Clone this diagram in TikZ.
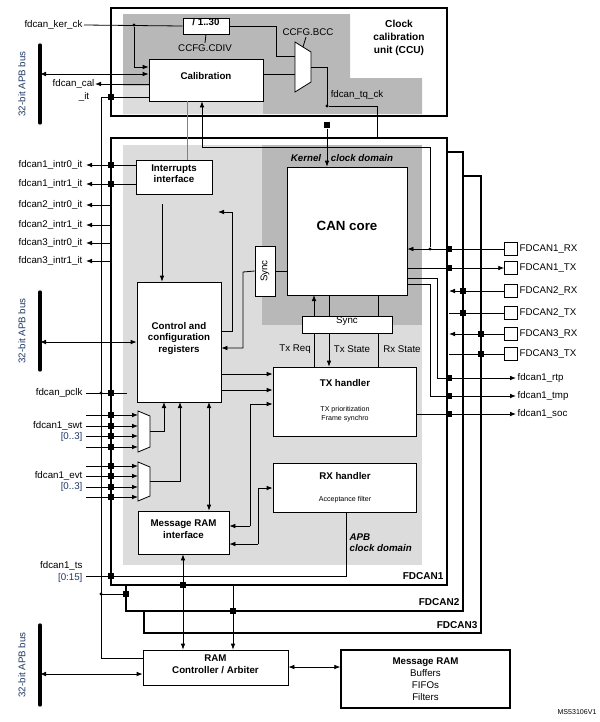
\documentclass[tikz,border=0pt]{standalone}
\usepackage{fontspec}
\setmainfont{Liberation Sans}
\usetikzlibrary{fit,arrows.meta}
\definecolor{dg}{HTML}{B8B8B8}
\definecolor{lg}{HTML}{DCDCDC}
\definecolor{bt}{HTML}{1F3864}
\begin{document}
\begin{tikzpicture}[x=0.75pt,y=-0.75pt,
  box/.style={draw,fill=white,line width=0.6pt,inner sep=0pt,align=center,font=\fontsize{7.3}{8.8}\selectfont\bfseries},
  frame/.style={draw,fill=white,line width=1.1pt},
  w/.style={line width=0.6pt},
  ar/.style={w,-{Latex[length=4.5pt,width=3.5pt]}},
  dar/.style={w,{Latex[length=4.5pt,width=3.5pt]}-{Latex[length=4.5pt,width=3.5pt]}},
  sq/.style={fill=black,minimum size=5pt,inner sep=0pt},
  dt/.style={circle,fill=black,minimum size=2.5pt,inner sep=0pt},
  lab/.style={font=\fontsize{7.3}{8.5}\selectfont,inner sep=1pt},
  bl/.style={lab,text=bt},
  bus/.style={line width=2.5pt,line cap=round}]
\useasboundingbox (0,0) rectangle (600,722);
% ---------------- CCU -------------
\draw[frame] (111,8) rectangle (447,116);
\fill[dg] (123,14) -- (350,14) -- (350,78) -- (422,78) -- (422,114) -- (123,114) -- cycle;
\fill[lg] (123,86) rectangle (263,114);
\node[lab,font=\fontsize{7.6}{9.5}\selectfont\bfseries,align=center] (ccu) at (399,38) {Clock\\calibration\\unit (CCU)};
\node[box,fit={(183,18)(229,34)}] (div) {/ 1..30};
\node[lab] (cdiv) at (205,48) {CCFG.CDIV};
\draw[w] (div.south) -- (cdiv.north);
\node[box,fit={(149,59)(263,101)}] (cal) {Calibration};
\draw[w,fill=white] (295,42) -- (311,52) -- (311,82) -- (295,92) -- cycle;
\node[lab] (bcc) at (308,32) {CCFG.BCC};
\draw[w] (bcc.south) ++(-2,0) -- (303,47);
\node[lab,anchor=east] (kerck) at (84,25) {fdcan\_ker\_ck};
\draw[w] (kerck.east) -- (div.west);
\node[dt] (kd) at (134,25) {};
\draw[ar] (kd) |- (cal.west |- 0,67);
\draw[w] (div.east) -| (276,56) -- (295,56);
\draw[w] (cal.east |- 0,74) -- (295,74);
\draw[w] (311,67) -| (327,106);
\node[dt] (tqd) at (327,106) {};
\node[lab] at (357,95) {fdcan\_tq\_ck};
\draw[w] (tqd) -| (377,152);
\node[sq] (tqs) at (327,125) {};
% APB bus 1
\draw[bus] (40,45) -- (40,123);
\node[bl,rotate=90] at (22,84) {32-bit APB bus};
\draw[dar] (40,74) -- (cal.west |- 0,74);
\draw[ar] (cal.west |- 0,84) -- (95,84);
\node[lab,anchor=east] at (96,84) {fdcan\_cal};
\node[lab] at (84,97) {\_it};
\node[sq] (its) at (111,97) {};
\draw[w] (cal.west |- 0,97) -- (101,97) -- (101,658) -- (143,658);
% ---------------- FDCAN frames -------------
\draw[frame] (144,176) rectangle (481,633);
\draw[frame] (126,152) rectangle (463,611);
\draw[frame] (111,138) rectangle (447,585);
\node[lab,font=\fontsize{7.5}{8}\selectfont\bfseries,anchor=east] at (479,625) {FDCAN3};
\node[lab,font=\fontsize{7.5}{8}\selectfont\bfseries,anchor=east] at (461,602) {FDCAN2};
\node[lab,font=\fontsize{7.5}{8}\selectfont\bfseries,anchor=east] at (445,576) {FDCAN1};
\fill[lg] (123,145) rectangle (422,565);
\fill[dg] (262,145) rectangle (422,325);
\node[lab,font=\fontsize{7.3}{8.5}\selectfont\bfseries\itshape] at (342,158) {Kernel\quad clock domain};
\node[lab,font=\fontsize{7.3}{8.5}\selectfont\bfseries\itshape,align=left,anchor=west] at (348,543) {APB\\clock domain};
% blocks
\node[box,font=\fontsize{10}{11}\selectfont\bfseries,fit={(287,167)(407,295)}] (can) {CAN core};
\node[box,fit={(255,246)(275,296)}] (sync1) {};
\node[lab,rotate=90] at (sync1.center) {Sync};
\node[box,font=\fontsize{7.3}{8}\selectfont,fit={(302,316)(392,333)}] (sync2) {Sync};
\node[box,fit={(136,160)(212,194)}] (intr) {Interrupts\\interface};
\node[box,fit={(137,282)(221,402)}] (ctrl) {Control and\\configuration\\registers};
\node[box,fit={(273,367)(416,436)}] (tx) {};
\node[lab,font=\fontsize{7.3}{8.5}\selectfont\bfseries] at (345,383) {TX handler};
\node[lab,font=\fontsize{5.3}{6.5}\selectfont,align=center] at (345,414) {TX prioritization\\Frame synchro};
\node[box,fit={(273,463)(416,512)}] (rx) {};
\node[lab,font=\fontsize{7.3}{8.5}\selectfont\bfseries] at (345,476) {RX handler};
\node[lab,font=\fontsize{5.3}{6.5}\selectfont] at (345,500) {Acceptance filter};
\node[box,fit={(138,511)(229,554)}] (mri) {Message RAM\\interface};
% muxes
\draw[w,fill=white] (138,411) -- (150,416) -- (150,447) -- (138,452) -- cycle;
\draw[w,fill=white] (138,462) -- (150,467) -- (150,496) -- (138,501) -- cycle;
% clock into CAN core
\draw[ar] (tqs) -- (can.north -| tqs);
% sync links
\draw[w] (sync1.east) -- (can.west |- sync1.east);
\draw[ar] (sync1.west) -- (243,272) |- (ctrl.east |- 0,348);
\draw[ar] (ctrl.east |- 0,331) -- (232,331) |- (218,212);
\draw[ar] (intr.south) ++(-12,10) coordinate (ia) -- (ia |- ctrl.north);
\draw[w,gray] (187,101) -- (intr.north -| 187,0);
\draw[ar] (sync2.north -| 314,0) -- (314,295);
\draw[w] (sync2.north -| 329,0) -- (329,295);
\draw[w] (sync2.north -| 378,0) -- (378,295);
\draw[w] (tx.north -| 314,0) -- (314,333);
\draw[ar] (329,333) -- (tx.north -| 329,0);
\draw[w] (tx.north -| 378,0) -- (378,333);
\node[lab] at (295,349) {Tx Req};
\node[lab] at (352,349) {Tx State};
\node[lab] at (402,349) {Rx State};
% control to handlers
\draw[ar] (ctrl.east |- 0,374) -- (tx.west |- 0,374);
\draw[ar] (ctrl.east |- 0,390) -- (tx.west |- 0,390);
\draw[ar] (250,526) |- (tx.west |- 0,404);
\draw[ar] (250,526) -- (mri.east |- 0,526);
\draw[ar] (258,544) |- (rx.west |- 0,488);
\draw[ar] (258,544) -- (mri.east |- 0,544);
\draw[ar] (150,431) -| (164,402);
\draw[ar] (150,481) -| (180,402);
\draw[dar] (209,402) -- (mri.north -| 209,0);
% interrupts
\foreach \y/\t in {165/fdcan1\_intr0\_it,184/fdcan1\_intr1\_it}{
  \node[lab,anchor=east] at (84,\y) {\t};
  \draw[ar] (intr.west |- 0,\y) -- (86,\y);
  \node[sq] at (111,\y) {};}
\foreach \y/\t in {205/fdcan2\_intr0\_it,225/fdcan2\_intr1\_it,243/fdcan3\_intr0\_it,261/fdcan3\_intr1\_it}{
  \node[lab,anchor=east] at (84,\y) {\t};
  \draw[ar] (111,\y) -- (86,\y);}
% APB bus 2
\draw[bus] (40,292) -- (40,370);
\node[bl,rotate=90] at (22,331) {32-bit APB bus};
\draw[dar] (40,342) -- (ctrl.west |- 0,342);
% pclk
\node[lab,anchor=east] at (84,393) {fdcan\_pclk};
\draw[w] (86,393) -- (127,393);
\node[dt] at (101,393) {};
\node[sq] at (111,393) {};
% swt / evt
\foreach \y in {415,426,436,447,466,476,487,497}{
  \draw[ar] (86,\y) -- (138,\y);
  \node[sq] at (111,\y) {};}
\node[lab,anchor=east] at (84,426) {fdcan1\_swt};
\node[bl,anchor=east] at (84,437) {[0..3]};
\node[lab,anchor=east] at (84,476) {fdcan1\_evt};
\node[bl,anchor=east] at (84,487) {[0..3]};
% ts
\node[lab,anchor=east] at (84,566) {fdcan1\_ts};
\node[bl,anchor=east] at (84,578) {[0:15]};
\draw[w] (86,576) -- (346,576) -- (346,512);
\node[sq] at (111,576) {};
\node[dt] at (101,594) {};
\draw[w] (101,594) -- (126,594);
\node[sq] at (126,594) {};
% ---------------- external pins -------------
\foreach \y/\n/\t in {249/p1/FDCAN1\_RX,268/p2/FDCAN1\_TX,291/p3/FDCAN2\_RX,313/p4/FDCAN2\_TX,334/p5/FDCAN3\_RX,354/p6/FDCAN3\_TX}{
  \node[draw,w,fill=white,minimum size=9.5pt,inner sep=0pt] (\n) at (511,\y) {};
  \node[lab,anchor=west] at (518,\y) {\t};}
\draw[ar] (p1.west) -- (can.east |- p1.west);
\node[dt] (rxd) at (430,249) {};
\node[sq] at (449,249) {};
\draw[w] (rxd) -- (430,147) -- (202,147);
\draw[ar] (202,147) -- (cal.south -| 202,0);
\draw[ar] (can.east |- p2.west) -- (p2.west);
\node[sq] at (449,268) {};
\draw[ar] (p3.west) -- (449,291); \node[sq] at (463,291) {};
\draw[w] (p4.west) -- (449,313); \node[sq] at (463,313) {};
\draw[ar] (p5.west) -- (449,334); \node[sq] at (481,334) {};
\draw[w] (p6.west) -- (449,354); \node[sq] at (481,354) {};
\node[lab,anchor=west] (rtp) at (516,378) {fdcan1\_rtp};
\node[lab,anchor=west] (tmp) at (516,396) {fdcan1\_tmp};
\node[lab,anchor=west] (soc) at (516,414) {fdcan1\_soc};
\draw[ar] (can.east |- 0,278) -- (437,278) |- (rtp.west);
\draw[ar] (can.east |- 0,284) -- (430,284) |- (tmp.west);
\draw[ar] (tx.east |- soc.west) -- (soc.west);
\foreach \y in {378,396,414} \node[sq] at (449,\y) {};
% ---------------- RAM -------------
\node[box,fit={(143,650)(288,685)}] (ramc) {RAM\\Controller / Arbiter};
\node[draw,line width=1pt,fill=white,fit={(341,650)(510,708)},inner sep=0pt] (mram) {};
\node[lab,align=center,font=\fontsize{7.3}{9}\selectfont] at (mram.center) {\textbf{Message RAM}\\Buffers\\FIFOs\\Filters};
\draw[dar] (ramc.east |- 0,667) -- (mram.west |- 0,667);
\draw[bus] (40,625) -- (40,705);
\node[bl,rotate=90] at (22,665) {32-bit APB bus};
\draw[dar] (40,674) -- (ramc.west |- 0,674);
\draw[dar] (mri.south -| 183,0) -- (ramc.north -| 183,0);
\node[sq] at (183,585) {};
\draw[ar] (233,585) -- (ramc.north -| 233,0);
\node[sq] at (233,611) {};
\node[lab,font=\fontsize{5.3}{6}\selectfont] at (577,712) {MS53106V1};
\end{tikzpicture}
\end{document}
